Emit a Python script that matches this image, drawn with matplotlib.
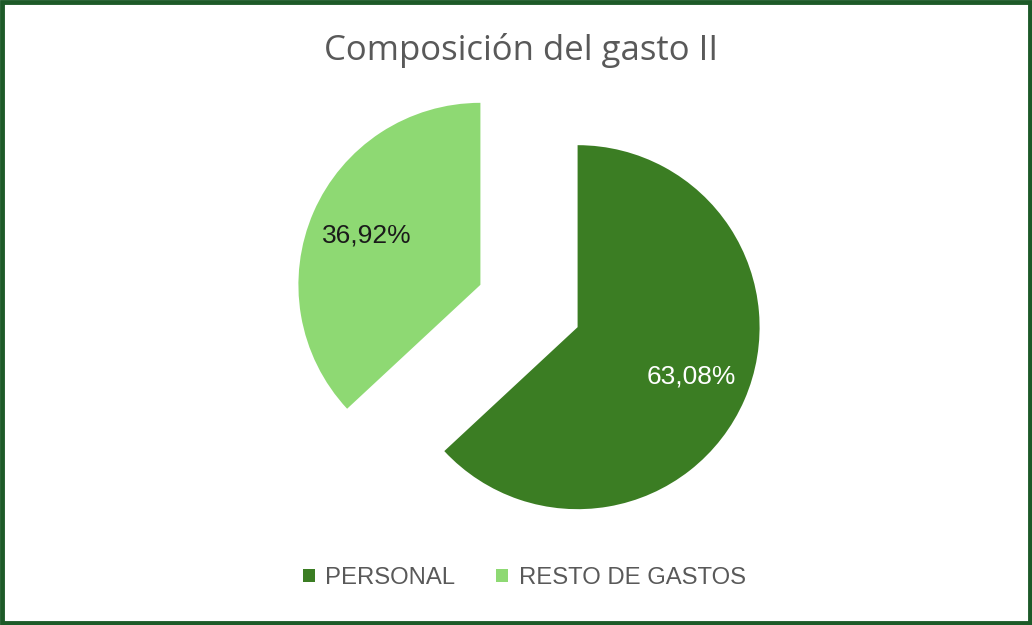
import matplotlib
matplotlib.use("Agg")
import matplotlib.pyplot as plt
from matplotlib.patches import Rectangle

# Datos del gráfico
categorias = ['PERSONAL', 'RESTO DE GASTOS']
porcentajes = [63.08, 36.92]
colores = ['#3b7d23', '#8ed973']
etiquetas = ['63,08%', '36,92%']
color_etiquetas = ['white', '#1a1a1a']

fig = plt.figure(figsize=(10.32, 6.25), dpi=100)
ax = fig.add_axes([0, 0, 1, 1])

# explode va en unidades de datos (pixeles aqui)
wedges, textos, autotextos = ax.pie(
    porcentajes, colors=colores, startangle=90, counterclock=False,
    explode=[53, 53], center=(529, 319), radius=182,
    autopct='%1.2f%%', pctdistance=0.68, frame=True,
    wedgeprops={'linewidth': 0})
ax.set_xlim(0, 1032)
ax.set_ylim(0, 625)
ax.set_aspect('equal')
ax.axis('off')

for t, lab, c in zip(autotextos, etiquetas, color_etiquetas):
    t.set_text(lab)
    t.set_color(c)
    t.set_fontsize(19)
    t.set_family('Liberation Sans')

fig.text(0.505, 1 - 50 / 625, 'Composición del gasto II', ha='center', va='center',
         fontsize=25, color='#595959', family='Open Sans')

leg = fig.legend(wedges, categorias, loc='center', ncol=2,
                 bbox_to_anchor=(0.508, 1 - 578 / 625), frameon=False,
                 handlelength=0.5, handleheight=0.5, handletextpad=0.45,
                 columnspacing=1.7, prop={'family': 'Liberation Sans', 'size': 17.2})
for txt in leg.get_texts():
    txt.set_color('#595959')

# Borde verde oscuro
fig.patches.append(Rectangle((0.002, 0.003), 0.996, 0.994, transform=fig.transFigure,
                             fill=False, edgecolor='#1d5a28', linewidth=3.5))

fig.savefig('out.png', dpi=100, facecolor='white')
